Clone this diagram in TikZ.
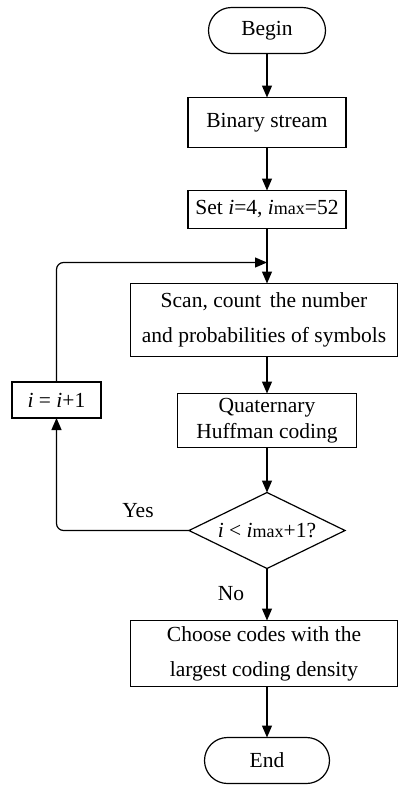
\documentclass[tikz,border=0pt]{standalone}
\usepackage{fontspec}
\setmainfont{Liberation Serif}
\usetikzlibrary{positioning,shapes.geometric,arrows.meta}

\tikzstyle{rect} = [rectangle, minimum height=36pt, text centered, draw=black, line width=1.2pt, align=center, inner sep=2pt, outer sep=0pt]
\tikzstyle{startstop} = [rectangle, rounded corners=23pt, minimum height=46pt, text centered, draw=black, line width=1.2pt, outer sep=0pt]
\tikzstyle{decision} = [diamond, aspect=2, minimum width=156pt, minimum height=76pt, inner sep=0pt, outer sep=0pt, text centered, draw=black, line width=1.2pt]
\tikzstyle{arrow} = [line width=1.2pt,-{Triangle[length=12pt,width=10pt]}]
\tikzstyle{label} = [font=\fontsize{21.5}{25}\selectfont]
\newcommand{\imax}{\textit{i}{\fontsize{18}{18}\selectfont max}}

\begin{document}
\begin{tikzpicture}[node distance=44pt, font=\fontsize{21.5}{25}\selectfont]

\useasboundingbox (0,0) rectangle (398pt,-785pt);

\node (begin) [startstop, minimum width=117pt] at (267pt,-30.5pt) {Begin};

\node (binary) [rect, minimum width=158pt, minimum height=50pt, below=44pt of begin] {Binary stream};

\node (set) [rect, minimum width=158pt, minimum height=38pt, below=43pt of binary] {Set \textit{i}=4, \imax=52};

\node (scan) [rect, minimum width=267pt, minimum height=73pt, below=55pt of set, xshift=-3pt] {Scan, count\, the number\\[10pt]and probabilities of symbols};

\node (quat) [rect, minimum width=179pt, minimum height=54pt, below=37pt of scan, xshift=3pt] {Quaternary\\[1pt]Huffman coding};

\node (dec) [decision, below=45pt of quat] {\textit{i} < \imax+1?};

\node (choose) [rect, minimum width=267pt, minimum height=66pt, below=52pt of dec, xshift=-3pt] {Choose codes with the\\[10pt]largest coding density};

\node (end) [startstop, minimum width=125pt, below=51pt of choose, xshift=3pt] {End};

\node (inc) [rect, minimum width=89pt, minimum height=36pt] at (56.5pt,-400pt) {\textit{i} = \textit{i}+1};

\coordinate (join) at ([yshift=-34pt]set.south);

\node (labelyes) [label] at (138pt,-511pt) {Yes};
\node (labelno) [label] at (231pt,-594pt) {No};

\draw[arrow] (begin) -- (binary);
\draw[arrow] (binary) -- (set);
\draw[arrow] (set.south) -- (set.south |- scan.north);
\draw[arrow] (scan.south -| quat.north) -- (quat.north);
\draw[arrow] (quat) -- (dec);
\draw[arrow] (dec.south) -- (dec.south |- choose.north);
\draw[arrow] (choose.south -| end.north) -- (end.north);
\draw[arrow, rounded corners=7pt] (dec.west) -| (inc.south);
\draw[arrow, rounded corners=7pt] (inc.north) |- (join);

\end{tikzpicture}
\end{document}
